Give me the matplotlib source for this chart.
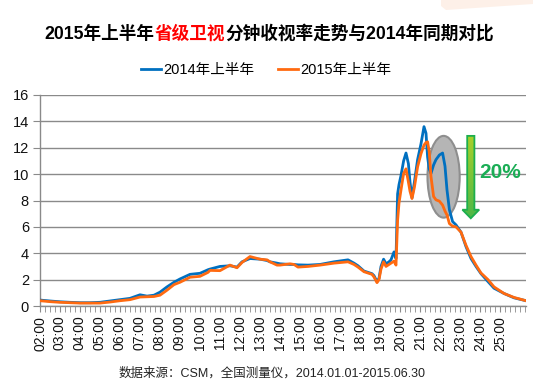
import numpy as np
import matplotlib
matplotlib.use("Agg")
import matplotlib.pyplot as plt
from matplotlib.patches import Ellipse, FancyArrow, Polygon
from matplotlib.lines import Line2D
from matplotlib.colors import LinearSegmentedColormap

# ---------------- data ----------------
hours = [2.0, 2.5, 3.0, 3.5, 4.0, 4.5, 5.0, 5.5, 6.0, 6.5, 7.0, 7.35, 7.7, 8.0, 8.35,
         8.7, 9.0, 9.5, 10.0, 10.4, 10.5, 11.0, 11.5, 11.85, 12.1, 12.5, 13.0, 13.35,
         13.5, 13.85, 14.0, 14.5, 14.7, 14.9, 15.4, 16.0, 16.7, 17.4, 17.7, 17.9, 18.2,
         18.4, 18.6, 18.7, 18.85, 18.95, 19.05, 19.18, 19.3, 19.45, 19.55, 19.7, 19.8,
         19.88, 19.95, 20.05, 20.18, 20.3, 20.42, 20.5, 20.6, 20.72, 20.88, 21.05, 21.2,
         21.3, 21.38, 21.46, 21.55, 21.68, 21.8, 21.97, 22.13, 22.25, 22.35, 22.47,
         22.63, 22.8, 23.05, 23.3, 23.55, 23.8, 24.05, 24.4, 24.7, 25.2, 25.7, 26.3]

rating_2014 = [0.45, 0.38, 0.32, 0.28, 0.25, 0.25, 0.28, 0.38, 0.48, 0.58, 0.85, 0.75,
               0.82, 1.05, 1.45, 1.80, 2.05, 2.40, 2.48, 2.75, 2.80, 3.00, 3.05, 2.95,
               3.35, 3.60, 3.55, 3.45, 3.35, 3.25, 3.20, 3.15, 3.15, 3.12, 3.10, 3.15,
               3.35, 3.50, 3.25, 3.05, 2.65, 2.55, 2.45, 2.30, 1.85, 2.10, 3.00, 3.55,
               3.20, 3.35, 3.50, 4.10, 3.60, 8.50, 9.20, 9.90, 11.0, 11.6, 10.8, 9.4,
               8.2, 9.4, 11.1, 12.3, 13.6, 13.1, 11.3, 10.4, 10.05, 10.7, 11.1, 11.45,
               11.6, 10.6, 8.8, 7.3, 6.4, 6.15, 5.6, 4.5, 3.6, 3.0, 2.45, 1.85, 1.35,
               0.95, 0.62, 0.40]

rating_2015 = [0.40, 0.33, 0.28, 0.25, 0.22, 0.22, 0.22, 0.30, 0.40, 0.48, 0.68, 0.70,
               0.72, 0.82, 1.20, 1.62, 1.80, 2.18, 2.25, 2.55, 2.70, 2.68, 3.10, 2.90,
               3.30, 3.75, 3.55, 3.50, 3.35, 3.10, 3.10, 3.20, 3.15, 2.95, 3.00, 3.10,
               3.25, 3.35, 3.15, 2.95, 2.60, 2.50, 2.40, 2.20, 1.77, 2.00, 2.80, 3.35,
               3.00, 3.15, 3.25, 3.40, 3.10, 6.50, 7.80, 8.80, 10.05, 10.4, 9.4, 8.7,
               8.15, 9.0, 10.55, 11.55, 12.2, 12.4, 12.45, 11.7, 9.8, 8.3, 8.05, 7.95,
               7.65, 7.2, 6.9, 6.25, 6.05, 6.0, 5.6, 4.6, 3.75, 3.1, 2.5, 2.0, 1.45,
               0.95, 0.65, 0.40]

tick_hours = list(range(2, 26))
tick_labels = [f"{h:02d}:00" for h in tick_hours]
y_ticks = [0, 2, 4, 6, 8, 10, 12, 14, 16]
series_names = ["2014年上半年", "2015年上半年"]
title_parts = [("2015年上半年", "black"), ("省级卫视", "#ff0000"),
               ("分钟收视率走势与2014年同期对比", "black")]
drop_label = "20%"
source_note = "数据来源：CSM，全国测量仪，2014.01.01-2015.06.30"

# ---------------- style ----------------
FONT = ["Liberation Sans", "Noto Sans CJK SC", "DejaVu Sans"]
plt.rcParams["font.family"] = FONT
BLUE = "#0070c0"
ORANGE = "#ff6a10"
GRID = "#8a8a8a"

W, H = 533, 383
fig = plt.figure(figsize=(W / 100, H / 100), dpi=100)
fig.patch.set_facecolor("white")

# decorative peach shape at top right
deco = Polygon([(441 / W, 1.0), (441 / W, 1 - 6 / H), (446 / W, 1 - 10 / H),
                (1.0, 1 - 4 / H), (1.0, 1.0)], closed=True,
               transform=fig.transFigure, facecolor="#fdf0e8", edgecolor="none")
fig.patches.append(deco)

ax = fig.add_axes([40 / W, (H - 306) / H, 486 / W, 211 / H])

ax.set_yticks(y_ticks)
ax.set_yticklabels([str(v) for v in y_ticks])
ax.set_xticks(tick_hours)
ax.set_xticklabels(tick_labels, rotation=90)
ax.set_xticks(np.arange(2, 26.3, 0.25), minor=True)

ax.tick_params(axis="y", length=5, color=GRID, labelsize=10.5, pad=3, labelcolor="#111111")
ax.tick_params(axis="x", which="both", length=4, color=GRID, labelsize=10, pad=3,
               labelcolor="#111111")
for sp in ["top", "right"]:
    ax.spines[sp].set_visible(False)
for sp in ["left", "bottom"]:
    ax.spines[sp].set_color(GRID)
    ax.spines[sp].set_linewidth(1.0)

ax.set_axisbelow(True)
ax.yaxis.grid(True, color=GRID, linewidth=1.0, zorder=0.5)

# ellipse highlight
ell = Ellipse((22.18, 9.8), 1.61, 6.2, facecolor="#b5b5b5", edgecolor="#8e8e8e",
              linewidth=1.5, zorder=1)
ax.add_patch(ell)

ax.plot(hours, rating_2014, color=BLUE, linewidth=2.0, zorder=3, solid_joinstyle="round")
ax.plot(hours, rating_2015, color=ORANGE, linewidth=2.0, zorder=4, solid_joinstyle="round")

# green arrow with gradient
arr = FancyArrow(23.54, 12.9, 0, -6.25, width=0.36, head_width=0.84, head_length=0.65,
                 length_includes_head=True, facecolor="none", edgecolor="#1cae4e",
                 linewidth=1.3, zorder=6)
ax.add_patch(arr)
grad = np.linspace(0, 1, 100).reshape(-1, 1)
cmap = LinearSegmentedColormap.from_list("g", ["#4cb848", "#a9cf2a"])
im = ax.imshow(grad, extent=[23.0, 24.1, 12.9, 6.6], cmap=cmap, aspect="auto",
               zorder=5, origin="upper")
im.set_clip_path(arr)
ax.set_xlim(2, 26.3)
ax.set_ylim(0, 16)

ax.text(25.0, 10.1, drop_label, color="#1aad55", fontsize=15, fontweight="bold",
        ha="center", va="center", zorder=7)

# legend
handles = [Line2D([], [], color=BLUE, linewidth=2), Line2D([], [], color=ORANGE, linewidth=2)]
fig.legend(handles, series_names, loc="center", bbox_to_anchor=(266 / W, 1 - 70 / H),
           ncol=2, frameon=False, fontsize=10.5, handlelength=1.4, handletextpad=0.15,
           columnspacing=1.6, borderaxespad=0, borderpad=0)

# multicolour title
renderer = fig.canvas.get_renderer()
texts, widths = [], []
for s, c in title_parts:
    t = fig.text(0, 1 - 34 / H, s, color=c, fontsize=12.7, fontweight="bold",
                 ha="left", va="center")
    widths.append(t.get_window_extent(renderer).width)
    texts.append(t)
x0 = 269 - sum(widths) / 2
for t, w in zip(texts, widths):
    t.set_x(x0 / W)
    x0 += w

fig.text(272 / W, 1 - 373 / H, source_note, fontsize=9, color="#222222",
         ha="center", va="center")

fig.savefig("out.png", dpi=100, facecolor="white")
